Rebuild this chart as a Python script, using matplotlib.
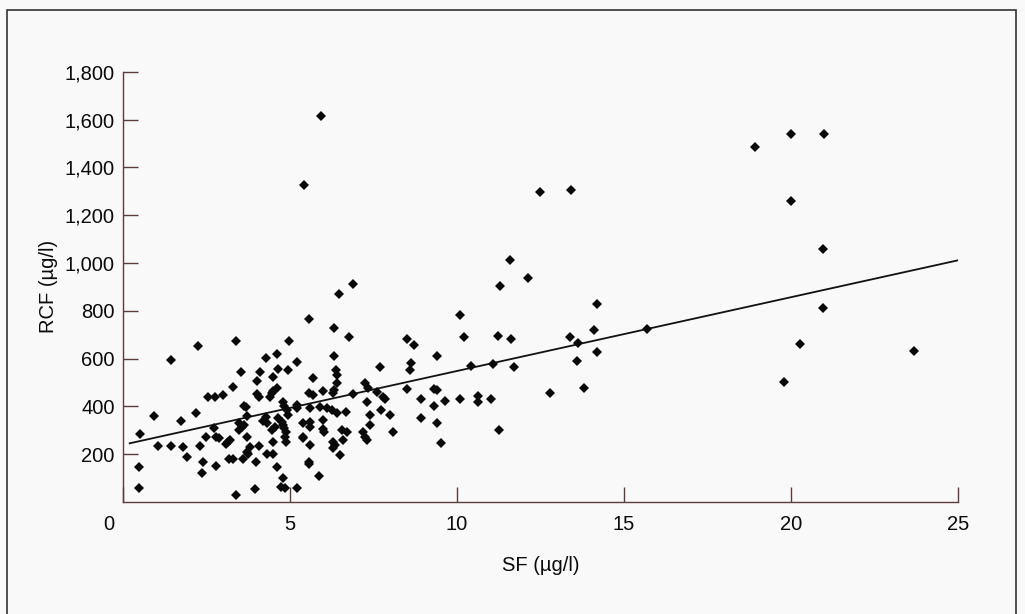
import matplotlib
matplotlib.use("Agg")
import matplotlib.pyplot as plt
import matplotlib.transforms as mtransforms
from matplotlib.patches import Rectangle
from matplotlib.ticker import FuncFormatter

# Serum ferritin (SF, ug/l) vs red cell ferritin (RCF, ug/l)
sf = [0.5, 0.49, 0.48, 0.93, 1.04, 1.44, 1.44, 1.73, 1.8, 1.93, 2.18, 2.25, 2.3, 2.48, 2.4,
      2.38, 2.55, 2.72, 2.75, 2.8, 2.87, 2.8, 3.0,
      3.08, 3.15, 3.2, 3.18, 3.3, 3.3, 3.38, 3.38, 3.48, 3.55, 3.62, 3.52, 3.6, 3.62, 3.67,
      3.7, 3.72, 3.7, 3.75, 3.97, 3.96, 4.02, 4.02, 4.08, 4.08, 3.47, 3.8,
      4.1, 4.28, 4.2, 4.27, 4.3, 4.3, 4.4, 4.45, 4.5, 4.6, 4.45, 4.55, 4.48, 4.5, 4.5, 4.6,
      4.63, 4.6, 4.65, 4.75, 4.78, 4.82, 4.9, 4.78, 4.83, 4.88, 4.86, 4.87, 4.78, 4.73, 4.85,
      4.93, 4.98, 4.95,
      5.2, 5.22, 5.21, 5.21, 5.4, 5.4, 5.4, 5.42, 5.58, 5.58, 5.7, 5.6, 5.6, 5.6, 5.6, 5.58,
      5.58, 5.7, 5.87, 5.9, 5.93, 5.98, 5.98, 6.02, 6.0,
      6.1, 6.27, 6.42, 6.3, 6.32, 6.33, 6.33, 6.38, 6.4, 6.42, 6.28, 6.35, 6.28, 6.5, 6.47,
      6.55, 6.7, 6.6, 6.68, 6.78, 6.9, 6.9,
      7.25, 7.35, 7.2, 7.25, 7.3, 7.3, 7.4, 7.4, 7.6, 7.7, 7.72, 7.8, 7.85, 8.0, 8.1,
      8.52, 8.72, 8.62, 8.6, 8.52, 8.92, 8.93, 9.31, 9.42, 9.31, 9.41, 9.41, 9.52, 9.64,
      10.08, 10.1, 10.22, 10.42, 10.62, 10.62, 11.02, 11.09, 11.22, 11.26, 11.3, 11.6, 11.62,
      11.7, 12.13, 12.49, 12.79, 13.41, 13.39, 13.62, 13.6, 13.82, 14.1, 14.19, 14.19, 15.69,
      18.93, 19.8, 20.02, 20.01, 20.27, 20.96, 20.96, 21.0, 23.7]
rcf = [285, 148, 60, 360, 236, 236, 593, 340, 229, 187, 374, 653, 236, 274, 169,
       120, 438, 311, 441, 274, 269, 152, 448,
       243, 253, 260, 179, 179, 483, 675, 30, 330, 315, 322, 545, 179, 402, 396,
       274, 361, 211, 201, 166, 53, 508, 452, 438, 235, 302, 232,
       544, 604, 340, 357, 330, 201, 441, 455, 466, 476, 302, 315, 250, 201, 524, 619,
       555, 146, 350, 336, 420, 402, 385, 322, 309, 294, 274, 253, 102, 64, 58,
       551, 675, 364,
       406, 392, 585, 60, 332, 274, 267, 1326, 764, 458, 448, 392, 336, 315, 239, 169,
       159, 520, 110, 399, 1614, 343, 304, 294, 466,
       392, 385, 371, 455, 469, 727, 611, 552, 532, 499, 253, 239, 225, 197, 870,
       302, 294, 260, 378, 689, 912, 451,
       497, 476, 294, 274, 260, 420, 322, 364, 462, 564, 385, 441, 430, 364, 292,
       681, 657, 580, 552, 473, 430, 350, 473, 469, 402, 612, 330, 248, 423,
       783, 431, 692, 569, 445, 420, 431, 576, 695, 302, 904, 1014, 682,
       564, 936, 1296, 455, 1305, 690, 664, 590, 478, 718, 828, 626, 724,
       1486, 504, 1538, 1261, 660, 1058, 813, 1538, 632]

# Regression line end points
fit_x = [0.2, 25]
fit_y = [246, 1011]

x_ticks = [0, 5, 10, 15, 20, 25]
y_ticks = [200, 400, 600, 800, 1000, 1200, 1400, 1600, 1800]

plt.rcParams['font.family'] = ['Liberation Sans', 'DejaVu Sans']

bg = '#f9f9f9'
axis_col = '#5a3c3c'
txt_col = '#0a0a0a'
fig = plt.figure(figsize=(10.25, 6.14), dpi=100, facecolor=bg)
ax = fig.add_axes([0.12, 0.1822, 0.8143, 0.701])
ax.set_facecolor(bg)

ax.plot(fit_x, fit_y, color='#111111', lw=1.3, zorder=2)
ax.plot(sf, rcf, linestyle='none', marker='D', markersize=5.0,
        color='#0a0a0a', markeredgewidth=0, zorder=3)

ax.set_xlim(0, 25)
ax.set_ylim(0, 1800)
ax.set_xticks(x_ticks)
ax.set_yticks(y_ticks)
ax.yaxis.set_major_formatter(FuncFormatter(lambda v, p: f"{int(v):,}"))

for s in ['top', 'right']:
    ax.spines[s].set_visible(False)
for s in ['left', 'bottom']:
    ax.spines[s].set_color(axis_col)
    ax.spines[s].set_linewidth(1.0)

ax.tick_params(axis='both', direction='in', length=10.5, width=1.0,
               color=axis_col, labelsize=14.5, labelcolor=txt_col)
ax.tick_params(axis='x', pad=9)
ax.tick_params(axis='y', pad=6)

# shift the "0" label to the left as in the original
offset = mtransforms.ScaledTranslation(-14 / 100, 0, fig.dpi_scale_trans)
fig.canvas.draw()
lbl0 = ax.get_xticklabels()[0]
lbl0.set_transform(lbl0.get_transform() + offset)

ax.set_ylabel('RCF (µg/l)', fontsize=14.5, color=txt_col)
ax.yaxis.set_label_coords(-0.078, 0.5)
ax.set_xlabel('SF (µg/l)', fontsize=14.5, color=txt_col)
ax.xaxis.set_label_coords(0.5, -0.125)

# frame around the figure
fig.patches.append(Rectangle((7 / 1025, -0.1), (1016 - 7) / 1025, 1.1 - 10 / 614,
                             transform=fig.transFigure, fill=False,
                             edgecolor='#333333', linewidth=1.2))

fig.savefig('out.png', dpi=100, facecolor=bg)
